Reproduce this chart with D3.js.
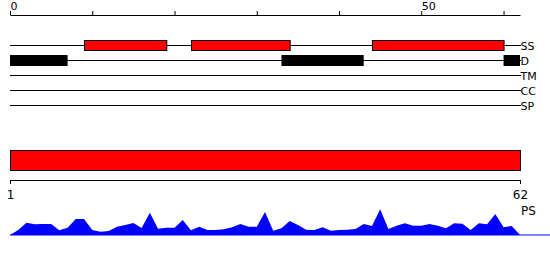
<!DOCTYPE html>
<html><head><meta charset="utf-8">
<script src="https://cdn.jsdelivr.net/npm/d3@7"></script>
<style>body{margin:0;background:#fff}svg{display:block}text{font-family:"DejaVu Sans",sans-serif}</style>
</head><body>
<svg id="c" width="550" height="260"></svg>
<script>
const seqLength = 62;
const topTicks = [0,10,20,30,40,50,60];
const topTickLabels = [0,50];
const trackNames = ["SS","D","TM","CC","SP"];
const ssSegments = [[9,19],[22,34],[44,60]];
const disorderSegments = [[0,7],[33,43],[60,62]];
const psSegments = [[1,62]];
const bottomTicks = [1,62];
const psLabel = "PS";
const psValues = [0,5,12.3,10.7,11,11,4.7,7.3,16,16,5,3.3,4,8.3,10,12,7,22.3,6.3,7.3,7.3,15,4.7,8.3,5,5,5.7,7.7,11,8.3,8.3,23,4.3,6.7,14,10,5.3,5,7.7,4.3,5,5.3,6,11,9,25.7,6,9.3,11.7,9.3,9.3,11,9.3,6.7,11.7,11.3,5,11.7,10.7,21,7.7,9,0];

const svg = d3.select("#c");
const x = d3.scaleLinear().domain([0, seqLength]).range([10, 520]);
const xr = d3.scaleLinear().domain([1, seqLength]).range([10, 520]);

// top axis
const gTop = svg.append("g").attr("transform","translate(0,15)")
  .call(d3.axisTop(x).tickValues(topTicks).tickSize(4).tickSizeOuter(0)
    .tickFormat(d => topTickLabels.includes(d) ? d : ""));
gTop.selectAll("text").attr("text-anchor","start").attr("x",0).attr("dy",null).attr("y",-5)
  .style("font-size","11px").style("font-family","DejaVu Sans");
gTop.selectAll("path,line").attr("stroke","#000");

// tracks
const rowY = d3.scalePoint().domain(trackNames).range([45, 105]);
const tracks = svg.append("g");
trackNames.forEach(n => {
  tracks.append("line").attr("x1", x(0)).attr("x2", x(seqLength)+1)
    .attr("y1", rowY(n)+0.5).attr("y2", rowY(n)+0.5).attr("stroke","#000").attr("stroke-width",1);
  tracks.append("text").attr("x", x(seqLength)+0.5).attr("y", rowY(n)+5)
    .style("font-size","11px").text(n);
});
tracks.selectAll("rect.ss").data(ssSegments).join("rect").attr("class","ss")
  .attr("x", d => x(d[0])+0.5).attr("width", d => x(d[1]) - x(d[0]))
  .attr("y", rowY("SS")-4.5).attr("height", 10)
  .attr("fill","#ff0000").attr("stroke","#000").attr("stroke-width",1);
tracks.selectAll("rect.dis").data(disorderSegments).join("rect").attr("class","dis")
  .attr("x", d => x(d[0])).attr("width", d => x(d[1]) - x(d[0]))
  .attr("y", rowY("D")-5).attr("height", 11).attr("fill","#000");

// PS bar
svg.selectAll("rect.ps").data(psSegments).join("rect").attr("class","ps")
  .attr("x", d => xr(d[0])+0.5).attr("width", d => xr(d[1]) - xr(d[0]))
  .attr("y", 150.5).attr("height", 20)
  .attr("fill","#ff0000").attr("stroke","#000").attr("stroke-width",1);

// bottom axis
const gBot = svg.append("g").attr("transform","translate(0,180)")
  .call(d3.axisBottom(xr).tickValues(bottomTicks).tickSize(4).tickSizeOuter(0).tickFormat(d => d));
gBot.selectAll("text").style("font-size","12px").style("font-family","DejaVu Sans").attr("y",10);
gBot.selectAll("path,line").attr("stroke","#000");

svg.append("text").attr("x", 521).attr("y", 215).style("font-size","12px").text(psLabel);

// area profile
const y = d3.scaleLinear().domain([0, 30]).range([235, 205]);
svg.append("line").attr("x1", x(0)).attr("x2", 550).attr("y1", 235).attr("y2", 235)
  .attr("stroke","#0000ff").attr("stroke-width",1);
svg.append("path").datum(psValues)
  .attr("d", d3.area().x((d,i) => x(i)).y0(y(0)).y1(d => y(d)))
  .attr("fill","#0000ff");
</script>
</body></html>
